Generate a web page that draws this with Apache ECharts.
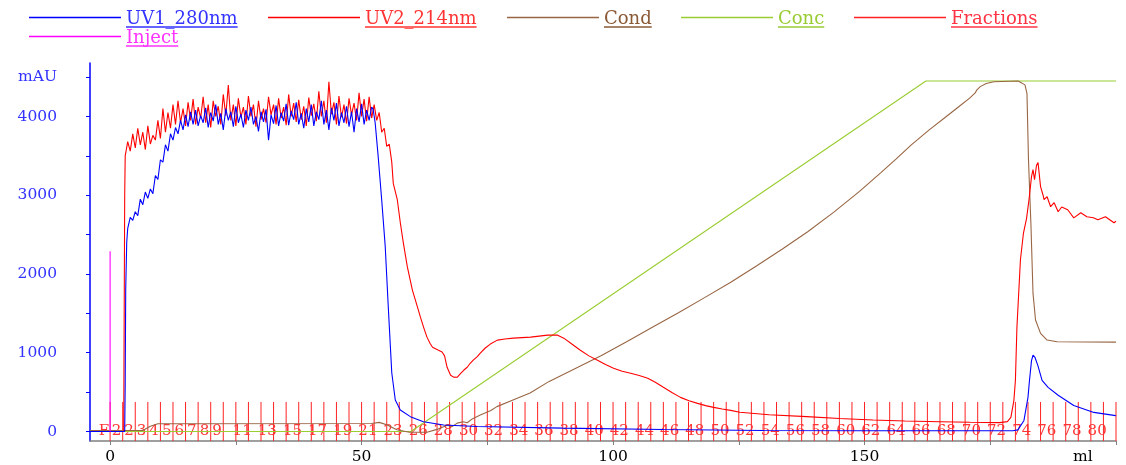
<!DOCTYPE html>
<html>
<head>
<meta charset="utf-8">
<title>Chromatogram</title>
<script src="https://cdn.jsdelivr.net/npm/echarts@6/dist/echarts.min.js"></script>
<style>
  html, body { margin: 0; padding: 0; background: #fff; }
  #chart { width: 1126px; height: 465px; }
</style>
</head>
<body>
<div id="chart"></div>
<script>
// [ml, mAU]
var uv1 = [
  [-4, 0], [2.9, 0], [3.0, 600], [3.1, 1800], [3.3, 2400], [3.5, 2580],
  [4.0, 2720], [4.5, 2680], [5.0, 2790], [5.5, 2740], [6.0, 2950], [6.5, 2880],
  [7.0, 3040], [7.5, 2960], [8.0, 3080], [8.5, 3020], [9.0, 3250], [9.5, 3200],
  [10.0, 3450], [10.5, 3420], [11.0, 3640], [11.5, 3560], [12.0, 3780], [12.5, 3700],
  [13.0, 3860], [13.5, 3780], [14.0, 3950], [14.5, 3830], [15.0, 4020], [15.5, 3870],
  [16.0, 4060], [16.5, 3900], [17.0, 4080], [17.5, 3880], [18.0, 4010], [18.5, 3920],
  [19.0, 4110], [19.5, 3860], [20.0, 4050], [20.5, 3940], [21.0, 4150], [21.5, 3900],
  [22.0, 4040], [22.5, 3830], [23.0, 4100], [23.5, 3950], [24.0, 4060], [24.5, 3870],
  [25.0, 4130], [25.5, 3920], [26.0, 4030], [26.5, 3860], [27.0, 4080], [27.5, 3950],
  [28.0, 4120], [28.5, 3900], [29.0, 4000], [29.5, 3810], [30.0, 4060], [30.5, 3930],
  [31.0, 4090], [31.5, 3700], [32.0, 4020], [32.5, 3910], [33.0, 4140], [33.5, 3880],
  [34.0, 4050], [34.5, 3940], [35.0, 4160], [35.5, 3890], [36.0, 4070], [36.5, 3960],
  [37.0, 4180], [37.5, 3900], [38.0, 4040], [38.5, 3850], [39.0, 4100], [39.5, 3930],
  [40.0, 4150], [40.5, 3880], [41.0, 4060], [41.5, 3960], [42.0, 4200], [42.5, 3900],
  [43.0, 4080], [43.5, 3830], [44.0, 4110], [44.5, 3950], [45.0, 4170], [45.5, 3880],
  [46.0, 4050], [46.5, 3920], [47.0, 4130], [47.5, 3870], [48.0, 4060], [48.5, 3800],
  [49.0, 4100], [49.5, 3930], [50.0, 4160], [50.5, 3900], [51.0, 4080], [51.5, 3950],
  [52.0, 4120], [52.3, 4090], [52.7, 3920], [53.3, 3490], [54.0, 2940], [54.7, 2350],
  [55.3, 1590], [56.0, 745], [56.7, 400], [57.7, 273], [59.7, 188], [62.3, 124],
  [66.3, 83], [73, 64], [90, 42], [110, 25], [130, 13], [150, 10], [179.5, 10],
  [180.5, 20], [181.7, 140], [182.5, 433], [182.8, 650], [183.2, 900], [183.5, 968],
  [183.9, 940], [184.5, 830], [185.3, 650], [186.5, 560], [188.5, 460], [191.6, 330],
  [195.6, 242], [199.6, 204], [200, 200]
];

var uv2 = [
  [-4, 0], [2.7, 0], [2.8, 1500], [2.9, 3000], [3.0, 3500], [3.5, 3680],
  [4.0, 3560], [4.5, 3780], [5.0, 3600], [5.5, 3850], [6.0, 3640], [6.5, 3800],
  [7.0, 3580], [7.5, 3880], [8.0, 3650], [8.5, 3760], [9.0, 3700], [9.5, 3950],
  [10.0, 3720], [10.5, 4100], [11.0, 3800], [11.5, 4050], [12.0, 3850], [12.5, 4150],
  [13.0, 3900], [13.5, 4200], [14.0, 3920], [14.5, 4100], [15.0, 3880], [15.5, 4180],
  [16.0, 3950], [16.5, 4220], [17.0, 3900], [17.5, 4120], [18.0, 3980], [18.5, 4250],
  [19.0, 3920], [19.5, 4150], [20.0, 3860], [20.5, 4200], [21.0, 4000], [21.5, 4130],
  [22.0, 3900], [22.5, 4280], [23.0, 4010], [23.5, 4400], [24.0, 3950], [24.5, 4150],
  [25.0, 3880], [25.5, 4230], [26.0, 3990], [26.5, 4120], [27.0, 3900], [27.5, 4260],
  [28.0, 4000], [28.5, 4150], [29.0, 3870], [29.5, 4200], [30.0, 3960], [30.5, 4100],
  [31.0, 3920], [31.5, 4250], [32.0, 4020], [32.5, 4150], [33.0, 3900], [33.5, 4230],
  [34.0, 3980], [34.5, 4120], [35.0, 3890], [35.5, 4280], [36.0, 4000], [36.5, 4170],
  [37.0, 3930], [37.5, 4210], [38.0, 3960], [38.5, 4130], [39.0, 3880], [39.5, 4240],
  [40.0, 4010], [40.5, 4160], [41.0, 3940], [41.5, 4320], [42.0, 4000], [42.5, 4200],
  [43.0, 3920], [43.5, 4440], [44.0, 4030], [44.5, 4180], [45.0, 3900], [45.5, 4260],
  [46.0, 3990], [46.5, 4150], [47.0, 3910], [47.5, 4230], [48.0, 4020], [48.5, 4170],
  [49.0, 3950], [49.5, 4300], [50.0, 4000], [50.5, 4220], [51.0, 3940], [51.5, 4250],
  [52.0, 3980], [52.5, 4150], [53.0, 3950], [53.5, 4050], [54.0, 3800], [54.5, 3850],
  [55.0, 3620], [55.5, 3650], [56.0, 3420], [56.3, 3150], [57.1, 2943], [57.7, 2650],
  [58.3, 2395], [59.1, 2090], [60.1, 1796], [60.7, 1669], [61.7, 1452], [62.4, 1310],
  [63.0, 1198], [63.6, 1120], [64.1, 1070], [65.3, 1032], [66.0, 1010], [66.5, 960],
  [67.0, 815], [67.7, 713], [68.3, 690], [69.0, 688], [69.7, 739], [70.3, 777],
  [71.0, 815], [71.6, 866], [72.2, 905], [73.0, 950], [73.6, 994], [74.6, 1060],
  [75.6, 1110], [77.0, 1160], [78.5, 1175], [80.2, 1185], [83.6, 1198], [87, 1223],
  [89, 1223], [90.2, 1185], [91.8, 1110], [93.5, 1032], [95.2, 960], [96.9, 905],
  [98.5, 850], [100.1, 803], [101.8, 765], [103.5, 739], [105.2, 710], [106.9, 675],
  [108.4, 625], [110, 561], [111.7, 495], [113.4, 433], [115.1, 390], [116.8, 357],
  [118.4, 328], [120, 306], [121.7, 285], [123.4, 268], [125.2, 244], [131, 212],
  [138.5, 188], [145, 165], [151.7, 146], [158, 133], [165, 124], [171, 117],
  [176.9, 112], [178.4, 125], [179.1, 178], [179.7, 395], [180.0, 650], [180.3, 1320],
  [181.0, 2180], [181.6, 2520], [182.2, 2700], [182.7, 2943], [183.2, 3236], [183.5, 3325],
  [183.8, 3198], [184.2, 3380], [184.5, 3414], [185.0, 3108], [185.5, 3000], [185.7, 2943],
  [186.3, 2981], [187.0, 2854], [187.7, 2905], [188.5, 2790], [189.2, 2850], [190.4, 2815],
  [191.6, 2713], [193.0, 2777], [194.2, 2726], [195.5, 2713], [196.4, 2688], [197.9, 2726],
  [199.6, 2650], [200, 2670]
];

// [ml, % of full scale]
var cond = [
  [-4, 0.3], [6.5, 0.3], [8, 1.5], [9.5, 2.2], [52, 2.3], [53.5, 2.6], [55, 1.9],
  [57, 0.5], [59.5, -0.2], [63, -0.2], [65, 0.6], [67, 1.8], [68, 1.4], [69, 2.4],
  [70.2, 2.8], [71, 2.5], [72, 3.6], [73.6, 4.7], [75.7, 6.0], [76.9, 7.1], [80.1, 9.0],
  [83.5, 11.0], [87.3, 14.3], [92, 17.6], [97.6, 21.6], [102.7, 25.6], [107.9, 29.8],
  [113, 33.9], [118.2, 38.2], [123.4, 42.6], [128.5, 47.2], [133.6, 52.0], [138.7, 57.0],
  [143.9, 62.6], [149, 68.5], [153.2, 73.8], [156.3, 77.8], [159.3, 81.8], [162.8, 86.0],
  [166.2, 89.8], [168.6, 92.5], [170.9, 95.1], [172.0, 96.6], [172.3, 97.4], [173, 98.4],
  [174.2, 99.3], [175.7, 99.8], [180.5, 100], [180.9, 99.7], [181.9, 98.9], [182.3, 96.4],
  [182.6, 77.5], [183.1, 58.4], [183.5, 39.4], [184.0, 31.8], [185.0, 28.0], [186.3, 26.1],
  [188.3, 25.6], [200, 25.5]
];

var conc = [[-4, 0], [59.8, 0], [162.2, 100], [200, 100]];

var inject = [[0, 0], [0, 2290]];

var fracMarks = [
  0, 2.5, 5, 7.5, 10, 12.5, 15, 17.5, 20, 22.5, 25, 27.5, 30, 32.5, 35, 37.5, 40,
  42.5, 45, 47.5, 50, 52.5, 55, 57.5, 60, 62.5, 65, 67.5, 70, 72.5, 75, 77.5, 80,
  82.5, 85, 87.5, 90, 92.5, 95, 97.5, 100, 102.5, 105, 107.5, 110, 112.5, 115, 117.5,
  120, 122.5, 125, 127.5, 130, 132.5, 135, 137.5, 140, 142.5, 145, 147.5, 150, 152.5,
  155, 157.5, 160, 162.5, 165, 167.5, 170, 172.5, 175, 177.5, 180, 182.5, 185, 187.5,
  190, 192.5, 195, 197.5, 200
];
var fracLabels = [
  "F", "2", "2", "3", "4", "5", "6", "7", "8", "9", "11", "13", "15", "17", "19",
  "21", "23", "26", "28", "30", "32", "34", "36", "38", "40", "42", "44", "46", "48",
  "50", "52", "54", "56", "58", "60", "62", "64", "66", "68", "70", "72", "74", "76",
  "78", "80"
];
var fracCenters = [
  -1.25, 1.25, 3.75, 6.25, 8.75, 11.25, 13.75, 16.25, 18.75, 21.25, 26.25, 31.25,
  36.25, 41.25, 46.25, 51.25, 56.25, 61.25, 66.25, 71.25, 76.25, 81.25, 86.25, 91.25,
  96.25, 101.25, 106.25, 111.25, 116.25, 121.25, 126.25, 131.25, 136.25, 141.25,
  146.25, 151.25, 156.25, 161.25, 166.25, 171.25, 176.25, 181.25, 186.25, 191.25, 196.25
];

var xTicks = [0, 25, 50, 75, 100, 125, 150, 175, 200];
var xLabels = [0, 50, 100, 150];
var yTicks = [0, 500, 1000, 1500, 2000, 2500, 3000, 3500, 4000, 4500];
var yLabels = [0, 1000, 2000, 3000, 4000, 4500];

var SERIF = '"DejaVu Serif", "Liberation Serif", serif';
var Y_MIN = -121, Y_MAX = 4679;
var FRAC_TOP = 375;
var BLUE = "#0000ff", RED = "#ff0000", BROWN = "#996644", GREEN = "#9acd32",
    FRAC_RED = "#ff2222", MAGENTA = "#ff00ff";

var chart = echarts.init(document.getElementById("chart"));

function legendItem(name, color, left, top) {
  return {
    data: [name],
    left: left,
    top: top,
    padding: 0,
    icon: "rect",
    itemWidth: 92,
    itemHeight: 1.5,
    selectedMode: false,
    formatter: "{t|{name}}\n{u| }",
    textStyle: {
      rich: {
        t: { fontFamily: SERIF, fontSize: 18, lineHeight: 19, color: color, padding: [5, 0, 0, 0] },
        u: { width: "100%", height: 1.5, lineHeight: 2, backgroundColor: color }
      }
    }
  };
}

function lineSeries(name, color, data, yAxisIndex, z) {
  return {
    name: name,
    type: "line",
    data: data,
    yAxisIndex: yAxisIndex,
    showSymbol: false,
    symbol: "none",
    sampling: null,
    animation: false,
    z: z,
    itemStyle: { color: color },
    lineStyle: { color: color, width: 1.1 }
  };
}

chart.setOption({
  animation: false,
  backgroundColor: "#fff",
  legend: [
    legendItem("UV1_280nm", "#3333ff", 29, 5),
    legendItem("UV2_214nm", "#ff3333", 268, 5),
    legendItem("Cond", "#8a5a36", 507, 5),
    legendItem("Conc", "#99cc33", 681, 5),
    legendItem("Fractions", "#ff3344", 854, 5),
    legendItem("Inject", "#ff33ff", 29, 24)
  ],
  grid: { left: 90, right: 10, top: 63, bottom: 24 },
  xAxis: {
    type: "value",
    min: -4,
    max: 200,
    name: "ml",
    nameLocation: "end",
    nameGap: -43,
    nameTextStyle: {
      fontFamily: SERIF, fontSize: 15.5, color: "#000",
      verticalAlign: "top", padding: [8, 0, 0, 0]
    },
    splitLine: { show: false },
    axisLine: { onZero: false, lineStyle: { color: "#808080", width: 1.5 } },
    axisTick: { customValues: xTicks, length: 4, lineStyle: { color: "#808080" } },
    axisLabel: {
      customValues: xLabels,
      margin: 8,
      fontFamily: SERIF,
      fontSize: 15.5,
      color: "#000"
    }
  },
  yAxis: [
    {
      type: "value",
      min: Y_MIN,
      max: Y_MAX,
      splitLine: { show: false },
      axisLine: { show: true, onZero: false, lineStyle: { color: BLUE, width: 1.5 } },
      axisTick: { show: true, customValues: yTicks, length: 4, lineStyle: { color: BLUE } },
      axisLabel: {
        customValues: yLabels,
        margin: 33,
        fontFamily: SERIF,
        fontSize: 15.5,
        color: "#3333ff",
        formatter: function (v) {
          return v === 4500 ? "mAU" : String(v);
        }
      }
    },
    { type: "value", min: -2.71, max: 105.14, show: false }
  ],
  series: [
    {
      type: "custom",
      name: "Fractions",
      data: fracMarks.map(function (x) { return [x, 0]; }),
      encode: { x: 0, y: 1 },
      itemStyle: { color: FRAC_RED },
      silent: true,
      z: 1,
      renderItem: function (params, api) {
        var top = api.coord([api.value(0), FRAC_TOP]);
        var bottom = api.coord([api.value(0), Y_MIN]);
        return {
          type: "line",
          shape: { x1: top[0], y1: top[1], x2: bottom[0], y2: bottom[1] },
          style: { stroke: FRAC_RED, lineWidth: 1 }
        };
      }
    },
    {
      type: "custom",
      data: fracCenters.map(function (x) { return [x, 0]; }),
      encode: { x: 0, y: 1 },
      silent: true,
      z: 1,
      renderItem: function (params, api) {
        var p = api.coord([api.value(0), api.value(1)]);
        return {
          type: "text",
          x: p[0],
          y: p[1],
          style: {
            text: fracLabels[params.dataIndex],
            fill: "#ff3333",
            font: "15px " + SERIF,
            align: "center",
            verticalAlign: "middle"
          }
        };
      }
    },
    lineSeries("Conc", GREEN, conc, 1, 2),
    lineSeries("Cond", BROWN, cond, 1, 2),
    lineSeries("UV2_214nm", RED, uv2, 0, 3),
    lineSeries("UV1_280nm", BLUE, uv1, 0, 4),
    lineSeries("Inject", MAGENTA, inject, 0, 5)
  ]
});

window.addEventListener("resize", function () {
  chart.resize();
});
</script>
</body>
</html>
